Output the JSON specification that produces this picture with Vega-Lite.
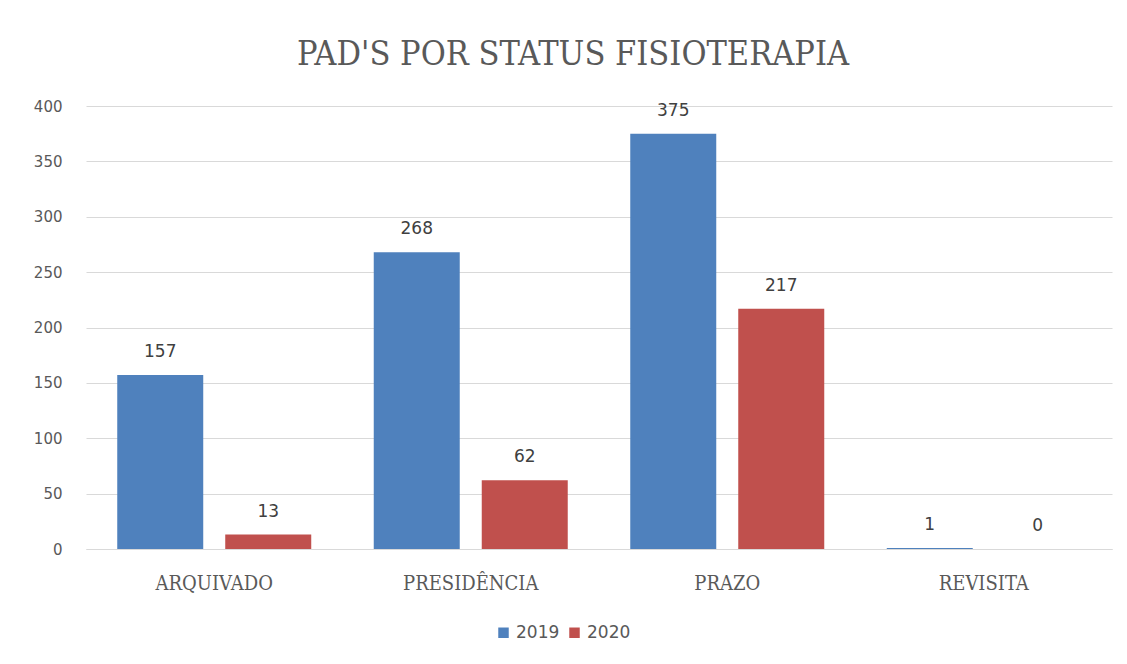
{
  "$schema": "https://vega.github.io/schema/vega-lite/v6.json",
  "width": 1026,
  "height": 443,
  "autosize": {"type": "none"},
  "padding": {"left": 86, "top": 106, "right": 15, "bottom": 115},
  "background": "white",
  "title": {
    "text": "PAD'S POR STATUS FISIOTERAPIA",
    "font": "DejaVu Serif Condensed, Liberation Serif",
    "fontSize": 34,
    "fontWeight": "normal",
    "color": "#595959",
    "anchor": "middle",
    "frame": "group",
    "dx": -26,
    "baseline": "alphabetic",
    "offset": 0
  },
  "data": {
    "values": [
      {"status": "ARQUIVADO", "ano": "2019", "valor": 157},
      {"status": "ARQUIVADO", "ano": "2020", "valor": 13},
      {"status": "PRESIDÊNCIA", "ano": "2019", "valor": 268},
      {"status": "PRESIDÊNCIA", "ano": "2020", "valor": 62},
      {"status": "PRAZO", "ano": "2019", "valor": 375},
      {"status": "PRAZO", "ano": "2020", "valor": 217},
      {"status": "REVISITA", "ano": "2019", "valor": 1},
      {"status": "REVISITA", "ano": "2020", "valor": 0}
    ]
  },
  "encoding": {
    "x": {
      "field": "status",
      "type": "nominal",
      "sort": ["ARQUIVADO", "PRESIDÊNCIA", "PRAZO", "REVISITA"],
      "scale": {"paddingInner": 0.2437, "paddingOuter": 0.1218},
      "axis": {
        "title": null,
        "labelAngle": 0,
        "labelFont": "DejaVu Serif Condensed, DejaVu Serif",
        "labelFontSize": 20,
        "labelColor": "#595959",
        "labelPadding": 24,
        "ticks": false,
        "domainColor": "#d9d9d9"
      }
    },
    "xOffset": {
      "field": "ano",
      "type": "nominal",
      "scale": {"paddingInner": 0.2037, "paddingOuter": 0}
    },
    "y": {
      "field": "valor",
      "type": "quantitative",
      "scale": {"domain": [0, 400]},
      "axis": {
        "title": null,
        "values": [0, 50, 100, 150, 200, 250, 300, 350, 400],
        "labelFont": "DejaVu Sans",
        "labelFontSize": 15,
        "labelColor": "#595959",
        "labelPadding": 24,
        "ticks": false,
        "domain": false,
        "gridColor": "#d9d9d9"
      }
    }
  },
  "layer": [
    {
      "mark": {"type": "bar"},
      "encoding": {
        "color": {
          "field": "ano",
          "type": "nominal",
          "scale": {"domain": ["2019", "2020"], "range": ["#4F81BD", "#C0504D"]},
          "legend": {
            "title": null,
            "orient": "none",
            "legendX": 409,
            "legendY": 518,
            "direction": "horizontal",
            "symbolType": "square",
            "symbolSize": 110,
            "symbolStrokeWidth": 0,
            "labelFont": "DejaVu Sans",
            "labelFontSize": 17,
            "labelColor": "#595959",
            "columnPadding": 6,
            "labelOffset": 4
          }
        }
      }
    },
    {
      "mark": {"type": "text", "dy": -23, "font": "DejaVu Sans", "fontSize": 17, "color": "#404040"},
      "encoding": {
        "text": {"field": "valor", "type": "quantitative"}
      }
    }
  ],
  "config": {"view": {"stroke": null}}
}
